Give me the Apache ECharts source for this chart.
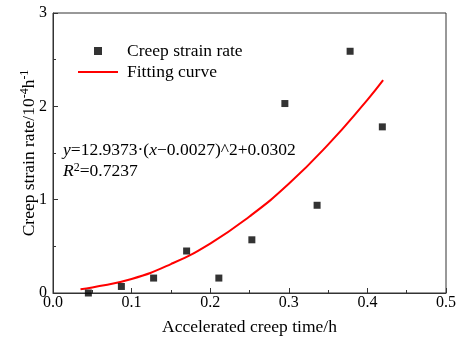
<!DOCTYPE html>
<html>
<head>
<meta charset="utf-8">
<script src="https://cdn.jsdelivr.net/npm/echarts@6/dist/echarts.min.js"></script>
<style>
  html, body { margin: 0; padding: 0; background: #fff; }
  #chart { width: 459px; height: 341px; }
</style>
</head>
<body>
<div id="chart"></div>
<script>
// measured points (x: accelerated creep time / h, y: creep strain rate)
const creepTime = [0.045, 0.087, 0.128, 0.170, 0.211, 0.253, 0.295, 0.336, 0.378, 0.419];
const creepRate = [0.00, 0.07, 0.16, 0.45, 0.16, 0.57, 2.03, 0.94, 2.59, 1.78];

// fitting curve
const fitTime = [0.035, 0.05, 0.10, 0.15, 0.20, 0.25, 0.30, 0.35, 0.40, 0.42];
const fitRate = [0.04, 0.06, 0.15, 0.31, 0.53, 0.82, 1.17, 1.59, 2.07, 2.28];

const xTicks = [0.0, 0.1, 0.2, 0.3, 0.4, 0.5];
const yTicks = [0, 1, 2, 3];

const font = 'Liberation Serif';

let myChart = echarts.init(document.getElementById('chart'));

const option = {
  backgroundColor: '#fff',
  animation: false,
  textStyle: { fontFamily: font, color: '#000' },
  grid: {
    left: 53, right: 11, top: 13, bottom: 47,
    show: true, borderColor: '#333', borderWidth: 1
  },
  legend: {
    orient: 'vertical',
    left: 73, top: 37,
    itemWidth: 40, itemHeight: 8,
    itemGap: 3,
    symbolKeepAspect: true,
    textStyle: { fontFamily: font, fontSize: 17.5, color: '#000', padding: [0, 0, 0, 4] },
    data: [
      { name: 'Creep strain rate', icon: 'path://M0,0L1,0L1,1L0,1Z' },
      { name: 'Fitting curve', icon: 'path://M0,0L40,0L40,2L0,2Z' }
    ]
  },
  xAxis: {
    type: 'value',
    min: xTicks[0], max: xTicks[xTicks.length - 1], interval: 0.1,
    name: 'Accelerated creep time/h',
    nameLocation: 'middle', nameGap: 25,
    nameTextStyle: { fontFamily: font, fontSize: 17.5, color: '#000' },
    axisLine: { lineStyle: { color: '#333', width: 1 } },
    axisTick: { inside: true, length: 5, lineStyle: { color: '#333' } },
    minorTick: { show: true, splitNumber: 2, length: 3, lineStyle: { color: '#333' } },
    splitLine: { show: false },
    axisLabel: {
      fontFamily: font, fontSize: 16, color: '#000', margin: 2,
      formatter: v => v.toFixed(1)
    }
  },
  yAxis: {
    type: 'value',
    min: yTicks[0], max: yTicks[yTicks.length - 1], interval: 1,
    name: '{t|Creep strain rate/10}{s|-4}{t|h}{s|-1}',
    nameLocation: 'middle', nameGap: 14,
    nameMoveOverlap: false,
    nameTextStyle: {
      fontFamily: font, fontSize: 17.5, color: '#000',
      rich: {
        t: { fontFamily: font, fontSize: 17.5, color: '#000' },
        s: { fontFamily: font, fontSize: 12, color: '#000', verticalAlign: 'top', padding: [0, 0, 8, 0] }
      }
    },
    axisLine: { lineStyle: { color: '#333', width: 1 } },
    axisTick: { inside: true, length: 5, lineStyle: { color: '#333' } },
    minorTick: { show: true, splitNumber: 2, length: 3, lineStyle: { color: '#333' } },
    splitLine: { show: false },
    axisLabel: { fontFamily: font, fontSize: 16, color: '#000', margin: 6 }
  },
  graphic: [
    {
      type: 'text', left: 63, top: 141,
      style: {
        text: '{i|y}=12.9373·({i|x}−0.0027)^2+0.0302',
        font: '17.5px ' + font, fill: '#000',
        rich: { i: { fontStyle: 'italic', fontFamily: font, fontSize: 17.5 } }
      }
    },
    {
      type: 'text', left: 63, top: 162,
      style: {
        text: '{i|R}{s|2}=0.7237',
        font: '17.5px ' + font, fill: '#000',
        rich: {
          i: { fontStyle: 'italic', fontFamily: font, fontSize: 17.5 },
          s: { fontFamily: font, fontSize: 12, verticalAlign: 'top' }
        }
      }
    }
  ],
  series: [
    {
      name: 'Creep strain rate',
      type: 'scatter',
      symbol: 'rect',
      symbolSize: 7,
      itemStyle: { color: '#000' },
      data: creepTime.map((x, i) => [x, creepRate[i]]),
      z: 3
    },
    {
      name: 'Fitting curve',
      type: 'line',
      smooth: true,
      symbol: 'none',
      lineStyle: { color: '#ff0000', width: 2 },
      itemStyle: { color: '#ff0000' },
      data: fitTime.map((x, i) => [x, fitRate[i]]),
      z: 2
    }
  ]
};

myChart.setOption(option);
</script>
</body>
</html>
